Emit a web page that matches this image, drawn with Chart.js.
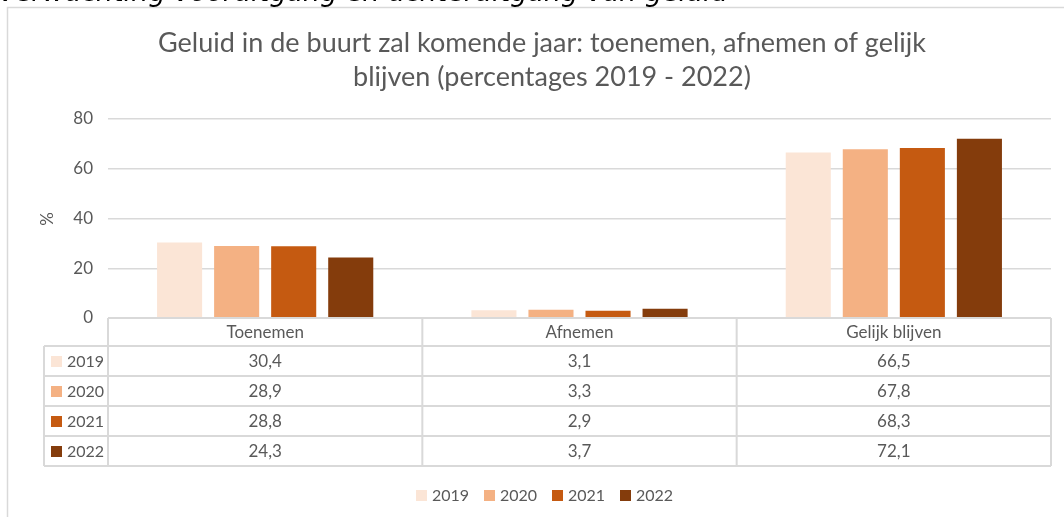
<!DOCTYPE html>
<html>
<head>
<meta charset="utf-8">
<script src="https://cdn.jsdelivr.net/npm/chart.js@4"></script>
<style>
  html, body { margin: 0; padding: 0; background: #fff; overflow: hidden; }
  #kop {
    position: absolute; left: -2px; top: -24px;
    font-family: "DejaVu Sans", sans-serif; font-style: italic;
    font-size: 27px; color: #000; white-space: nowrap;
  }
  canvas { display: block; }
</style>
</head>
<body>
<div id="kop">Verwachting vooruitgang en achteruitgang van geluid</div>
<canvas id="grafiek" width="1064" height="517"></canvas>
<script>
// data
const categorieen = ['Toenemen', 'Afnemen', 'Gelijk blijven'];
const jaren = ['2019', '2020', '2021', '2022'];
const waarden2019 = [30.4, 3.1, 66.5];
const waarden2020 = [28.9, 3.3, 67.8];
const waarden2021 = [28.8, 2.9, 68.3];
const waarden2022 = [24.3, 3.7, 72.1];
const yTicks = [0, 20, 40, 60, 80];

const titelRegels = ['Geluid in de buurt zal komende jaar: toenemen, afnemen of gelijk', 'blijven (percentages 2019 - 2022)'];
const kleuren = ['#FBE5D6', '#F4B183', '#C55A11', '#843C0C'];
const alleWaarden = [waarden2019, waarden2020, waarden2021, waarden2022];

const tekstKleur = '#595959';
const lijnKleur = '#d9d9d9';
const fontNaam = 'Lato, "Open Sans", sans-serif';

function fmt(v) {
  return v.toFixed(1).replace('.', ',');
}

// tabel, titel, legenda en kader
const extraTekenen = {
  id: 'extraTekenen',
  beforeDraw(chart) {
    const ctx = chart.ctx;
    ctx.save();
    ctx.strokeStyle = lijnKleur;
    ctx.lineWidth = 1.5;
    ctx.beginPath();
    ctx.moveTo(7.5, 600);
    ctx.lineTo(7.5, 7.5);
    ctx.lineTo(1100, 7.5);
    ctx.stroke();
    ctx.restore();
  },
  afterDraw(chart) {
    const ctx = chart.ctx;
    const area = chart.chartArea;
    const x = chart.scales.x;
    ctx.save();

    // titel
    ctx.fillStyle = tekstKleur;
    ctx.font = '27px ' + fontNaam;
    ctx.textAlign = 'center';
    ctx.textBaseline = 'alphabetic';
    ctx.fillText(titelRegels[0], 542, 52);
    ctx.fillText(titelRegels[1], 552, 86);

    // y-as titel
    ctx.textBaseline = 'middle';
    ctx.save();
    ctx.translate(48, 219);
    ctx.rotate(-Math.PI / 2);
    ctx.font = '17px ' + fontNaam;
    ctx.fillText('%', 0, 0);
    ctx.restore();

    // tabel
    const kopHoogte = 28;
    const rijHoogte = 30;
    const tabelLinks = 44;
    const boven = area.bottom;
    const onder = boven + kopHoogte + rijHoogte * jaren.length;
    const breedte = (area.right - area.left) / categorieen.length;

    ctx.strokeStyle = lijnKleur;
    ctx.lineWidth = 2;
    ctx.beginPath();
    ctx.moveTo(area.left, boven);
    ctx.lineTo(area.right, boven);
    for (let r = 0; r <= jaren.length; r++) {
      const y = boven + kopHoogte + r * rijHoogte;
      ctx.moveTo(tabelLinks, y);
      ctx.lineTo(area.right, y);
    }
    ctx.moveTo(tabelLinks, boven + kopHoogte);
    ctx.lineTo(tabelLinks, onder);
    ctx.moveTo(area.left, boven);
    ctx.lineTo(area.left, onder);
    categorieen.forEach((c, i) => {
      const xr = x.getPixelForValue(i) + breedte / 2;
      ctx.moveTo(xr, boven);
      ctx.lineTo(xr, onder);
    });
    ctx.stroke();

    ctx.font = '17px ' + fontNaam;
    ctx.fillStyle = tekstKleur;
    ctx.textAlign = 'center';
    categorieen.forEach((c, i) => {
      ctx.fillText(c, x.getPixelForValue(i), boven + kopHoogte / 2 + 1);
    });

    jaren.forEach((jaar, r) => {
      const yc = boven + kopHoogte + r * rijHoogte + rijHoogte / 2 + 1;
      ctx.fillStyle = kleuren[r];
      ctx.fillRect(51, yc - 6, 11, 11);
      ctx.fillStyle = tekstKleur;
      ctx.font = '16px ' + fontNaam;
      ctx.textAlign = 'left';
      ctx.fillText(jaar, 67, yc);
      ctx.font = '17px ' + fontNaam;
      ctx.textAlign = 'center';
      alleWaarden[r].forEach((v, i) => {
        ctx.fillText(fmt(v), x.getPixelForValue(i), yc);
      });
    });

    // legenda
    ctx.font = '16px ' + fontNaam;
    const legY = 495;
    let lx = 416;
    jaren.forEach((jaar, r) => {
      ctx.fillStyle = kleuren[r];
      ctx.fillRect(lx, legY - 5, 11, 11);
      ctx.fillStyle = tekstKleur;
      ctx.textAlign = 'left';
      ctx.fillText(jaar, lx + 16, legY + 1);
      lx += 68;
    });

    ctx.restore();
  }
};

const datasets = jaren.map((jaar, r) => ({
  label: jaar,
  data: alleWaarden[r],
  backgroundColor: kleuren[r],
  borderWidth: 0,
  categoryPercentage: 0.726,
  barPercentage: 0.79
}));

new Chart(document.getElementById('grafiek'), {
  type: 'bar',
  data: { labels: categorieen, datasets: datasets },
  options: {
    responsive: false,
    animation: false,
    devicePixelRatio: 1,
    layout: { padding: { top: 119, bottom: 199, left: 0, right: 13 } },
    plugins: {
      legend: { display: false },
      title: { display: false },
      tooltip: { enabled: false }
    },
    scales: {
      x: { display: false },
      y: {
        min: 0,
        max: 80,
        afterFit: (scale) => { scale.width = 108; },
        afterBuildTicks: (scale) => { scale.ticks = yTicks.map(v => ({ value: v })); },
        ticks: {
          color: tekstKleur,
          font: { family: fontNaam, size: 17 },
          padding: 15
        },
        grid: { color: lijnKleur, lineWidth: 1.5, drawTicks: false },
        border: { display: false }
      }
    }
  },
  plugins: [extraTekenen]
});
</script>
</body>
</html>
